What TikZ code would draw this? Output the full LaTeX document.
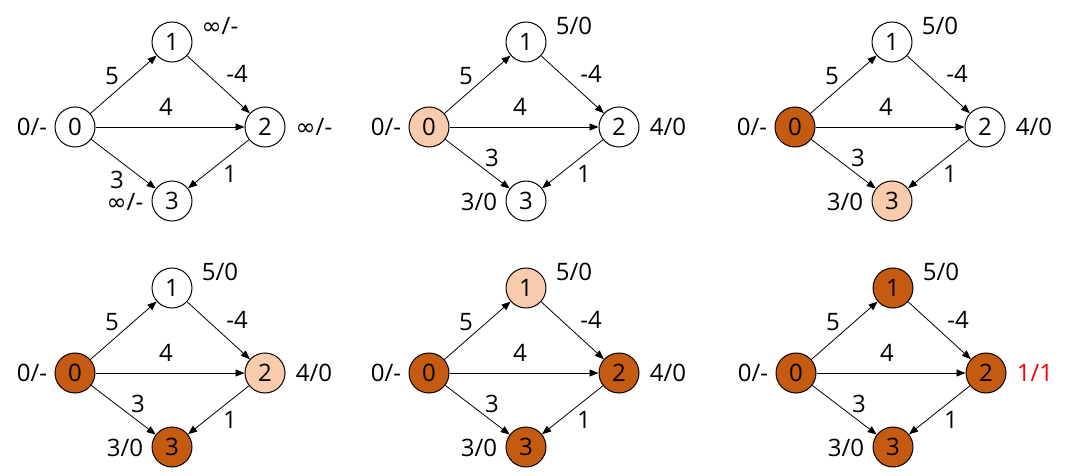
\documentclass[tikz,border=0pt]{standalone}
\usepackage{fontspec}
\setmainfont{Open Sans}
\newfontfamily\symbolfont{DejaVu Sans}
\usetikzlibrary{arrows.meta}
\definecolor{visitlight}{HTML}{F8CBAD}
\definecolor{visitdark}{HTML}{C55A11}
\definecolor{relaxred}{HTML}{FF0000}
\newcommand{\infdist}{{\symbolfont ∞}/-}
\begin{document}
\begin{tikzpicture}[x=0.5pt, y=-0.5pt,
    vertex/.style={circle, draw, line width=0.5pt, minimum size=20pt, inner sep=0, font=\fontsize{12}{14}\selectfont},
    edge/.style={draw, line width=0.4pt, -{Triangle[length=4.5pt, width=3.5pt]}},
    textnode/.style={inner sep=0, font=\fontsize{12}{14}\selectfont}
    ]
    \useasboundingbox (0,0) rectangle (1067,476);

    % One panel per step: origin, fills of 0-3, labels of 1-3, place of weight 3
    \foreach \ox/\oy/\fa/\fb/\fc/\fd/\lb/\lc/\ld/\wx/\wy in {
        75/127/white/white/white/white/\infdist/\infdist/\infdist/42/53,
        429/127/visitlight/white/white/white/{5/0}/{4/0}/{3/0}/63/31,
        795/127/visitdark/white/white/visitlight/{5/0}/{4/0}/{3/0}/63/31,
        75/373/visitdark/white/visitlight/visitdark/{5/0}/{4/0}/{3/0}/63/31,
        429/373/visitdark/visitlight/visitdark/visitdark/{5/0}/{4/0}/{3/0}/63/31,
        796/373/visitdark/visitdark/visitdark/visitdark/{5/0}/{\textcolor{relaxred}{1/1}}/{3/0}/63/31}
    {
    \begin{scope}[shift={(\ox,\oy)}]
    % Vertices
    \node[vertex, fill=\fa] (v0) at (0,0) {0};
    \node[vertex, fill=\fb] (v1) at (97,-85) {1};
    \node[vertex, fill=\fc] (v2) at (190,0) {2};
    \node[vertex, fill=\fd] (v3) at (97,74) {3};

    % Distance / predecessor labels
    \node[textnode] (d0) at (-43,0) {0/-};
    \node[textnode] (d1) at (145,-101) {\lb};
    \node[textnode] (d2) at (239,0) {\lc};
    \node[textnode] (d3) at (50,75) {\ld};

    % Edges
    \draw[edge] (v0) -- (v1);
    \draw[edge] (v0) -- (v2);
    \draw[edge] (v0) -- (v3);
    \draw[edge] (v1) -- (v2);
    \draw[edge] (v2) -- (v3);

    % Weights
    \node[textnode] (w01) at (37,-51) {5};
    \node[textnode] (w02) at (91,-20) {4};
    \node[textnode] (w03) at (\wx,\wy) {3};
    \node[textnode] (w12) at (162,-53) {-4};
    \node[textnode] (w23) at (155,47) {1};
    \end{scope}
    }

\end{tikzpicture}
\end{document}
